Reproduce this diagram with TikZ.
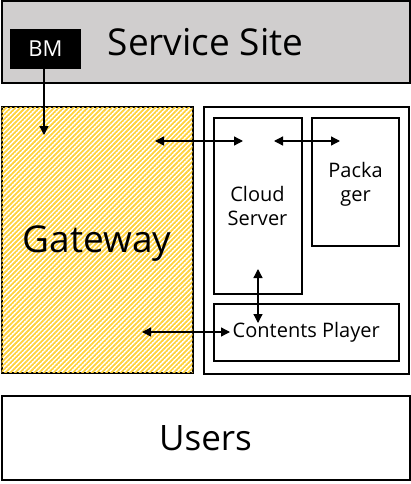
\documentclass[tikz,border=0pt]{standalone}
\usepackage{fontspec}
\setmainfont{Open Sans}
\usetikzlibrary{arrows.meta,patterns.meta}

\definecolor{sitegray}{RGB}{208,206,206}
\definecolor{gwyellow}{RGB}{255,210,60}

\tikzdeclarepattern{
  name=gwstripes,
  type=uncolored,
  bounding box={(0,-0.9pt) and (3.4pt,0.9pt)},
  tile size={(3.4pt,3.4pt)},
  tile transformation={rotate=45},
  code={\draw[line width=1.8pt] (-0.5pt,0) -- (3.9pt,0);}
}

\begin{document}
\begin{tikzpicture}[x=1pt,y=-1pt]
\tikzstyle{every node}=[inner sep=0pt, outer sep=0pt, align=center]
\tikzstyle{box}=[draw, line width=2pt, anchor=north west]
\tikzstyle{link}=[{Triangle[length=9pt,width=9pt]}-{Triangle[length=9pt,width=9pt]}, line width=1.3pt]
\useasboundingbox (0,0) rectangle (411,484);

% top and bottom bands
\node[box, fill=sitegray, minimum width=408pt, minimum height=82pt,
  font=\fontsize{37}{37}\selectfont] (site) at (1.5,1.5) {Service Site};
\node[box, fill=black, text=white, minimum width=69pt, minimum height=38pt,
  font=\fontsize{22}{22}\selectfont] (bm) at (11,30) {BM};
\node[box, minimum width=408pt, minimum height=84pt,
  font=\fontsize{35}{35}\selectfont] (users) at (1.5,396) {Users};

% gateway
\node[box, fill=white, postaction={pattern=gwstripes, pattern color=gwyellow},
  minimum width=191pt, minimum height=265pt] (gw) at (1.5,107.5) {};
\node[font=\fontsize{37}{37}\selectfont] (gwtext) at (97,244) {Gateway};

% cloud side
\node[box, minimum width=205pt, minimum height=266pt] (cloud) at (204,107.5) {};
\node[box, minimum width=88pt, minimum height=175.5pt,
  font=\fontsize{20}{24}\selectfont] (cs) at (213.5,118) {Cloud\\Server};
\node[box, minimum width=87pt, minimum height=128pt] (pk) at (312,118) {};
\node[font=\fontsize{20}{24}\selectfont] (pktext) at (355.5,184) {Packa\\ger};
\node[box, minimum width=185.5pt, minimum height=57pt,
  font=\fontsize{20}{20}\selectfont] (cp) at (213.5,304) {Contents Player};

% arrow ends
\coordinate (gwtop) at (155,141);
\coordinate (cstop) at (243,141);
\coordinate (csright) at (274,141);
\coordinate (pkleft) at (340,141);
\coordinate (csbot) at (258,269);
\coordinate (cptop) at (258,323);
\coordinate (gwbot) at (142,332);
\coordinate (cpleft) at (230,332);
\coordinate (gwin) at (44,135);

\draw[-{Triangle[length=9pt,width=9pt]}, line width=1.3pt] (bm.south -| gwin) -- (gwin);
\draw[link] (gwtop) -- (cstop);
\draw[link] (csright) -- (pkleft);
\draw[link] (csbot) -- (cptop);
\draw[link] (gwbot) -- (cpleft);
\end{tikzpicture}
\end{document}
